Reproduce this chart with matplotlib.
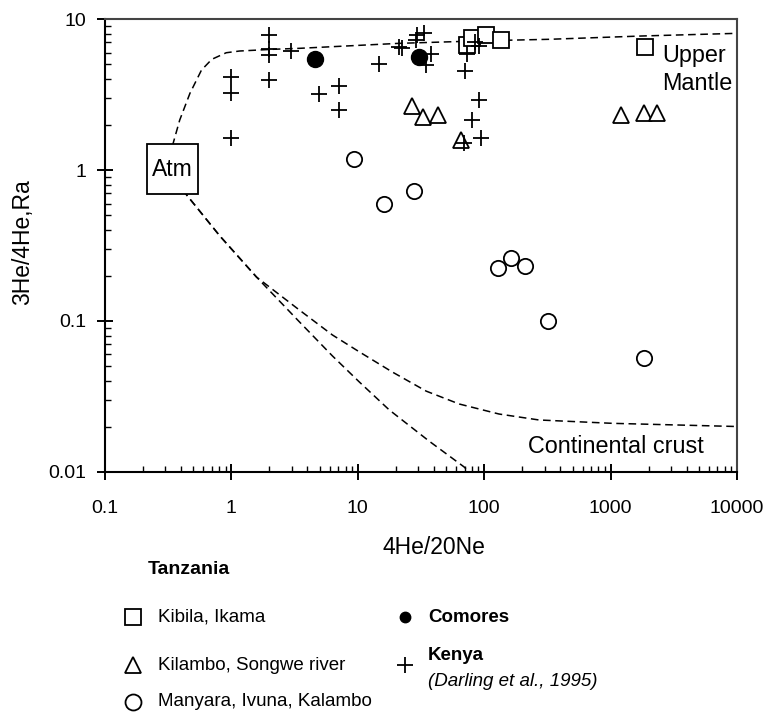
import matplotlib.pyplot as plt
from matplotlib.patches import Rectangle
from matplotlib.ticker import LogLocator, FuncFormatter, NullFormatter

plt.rcParams['font.family'] = ['Liberation Sans', 'DejaVu Sans']

# Tanzania springs
kibila_x = [73.6, 80.5, 103, 135, 1880]
kibila_y = [6.7, 7.45, 7.84, 7.3, 6.56]
kilambo_x = [27, 33, 43.5, 65, 1200, 1850, 2330]
kilambo_y = [2.65, 2.25, 2.32, 1.58, 2.32, 2.37, 2.40]
manyara_x = [9.4, 16.2, 28, 129, 164, 210, 320, 1850]
manyara_y = [1.18, 0.60, 0.73, 0.223, 0.26, 0.231, 0.10, 0.0566]

# Comores and Kenya (Darling et al., 1995)
comores_x = [4.6, 30.6]
comores_y = [5.4, 5.6]
kenya_x = [1.0, 1.0, 1.0, 2.0, 2.0, 2.0, 2.0, 2.97, 4.9, 7.06, 7.06, 14.8, 21.3, 22.3,
           29.5, 33.6, 29.0, 37.9, 34.6, 73.6, 71.0, 85.0, 91.0, 91.0, 80.5, 93.6, 69.4]
kenya_y = [4.15, 3.22, 1.62, 7.84, 6.3, 5.8, 3.95, 6.1, 3.17, 3.6, 2.5, 5.03, 6.56, 6.4,
           7.8, 8.1, 7.3, 5.9, 4.96, 5.9, 4.55, 7.0, 6.6, 2.9, 2.15, 1.62, 1.5]

# mixing curves from air (Atm)
mantle_x = [0.318, 0.346, 0.39, 0.47, 0.58, 0.70, 0.91, 1.16, 2.1, 3.5, 21, 100, 325, 1760, 10000]
mantle_y = [1.0, 1.5, 2.14, 3.22, 4.59, 5.41, 5.98, 6.14, 6.3, 6.4, 6.9, 7.18, 7.34, 7.72, 8.04]
crust_x = [0.318, 0.443, 0.81, 1.58, 3.46, 6.3, 10.3, 18.7, 34.8, 63.4, 131, 271, 1028, 10000]
crust_y = [1.0, 0.683, 0.366, 0.1955, 0.118, 0.0808, 0.0624, 0.046, 0.0343, 0.0282, 0.0242,
           0.0221, 0.021, 0.02]
steep_x = [0.318, 0.443, 0.81, 1.58, 3.46, 6.3, 10.3, 17.7, 36.7, 69.3, 76]
steep_y = [1.0, 0.683, 0.366, 0.1955, 0.0985, 0.0587, 0.0394, 0.0258, 0.016, 0.0108, 0.01]

fig = plt.figure(figsize=(7.69, 7.21), dpi=100)
ax = fig.add_axes([0.1365, 0.3454, 0.8219, 0.6282])

dash = (0, (5, 3))
for cx, cy in [(mantle_x, mantle_y), (crust_x, crust_y), (steep_x, steep_y)]:
    ax.plot(cx, cy, color='black', lw=1.1, linestyle=dash, zorder=2)

mk = dict(linestyle='none', color='black', mfc='white', mec='black', mew=1.3, ms=11, zorder=3)
ax.plot(kibila_x, kibila_y, marker='s', **mk)
ax.plot(kilambo_x, kilambo_y, marker='^', **mk)
ax.plot(manyara_x, manyara_y, marker='o', **mk)
ax.plot(kenya_x, kenya_y, marker='+', linestyle='none', color='black', mew=1.3, ms=11.5, zorder=3)
ax.plot(comores_x, comores_y, marker='o', linestyle='none', color='black', ms=11.5, zorder=4)

ax.set_xscale('log')
ax.set_yscale('log')
ax.set_xlim(0.1, 10000)
ax.set_ylim(0.01, 10)

fmt = FuncFormatter(lambda v, _: f'{v:g}')
for axis in (ax.xaxis, ax.yaxis):
    axis.set_major_formatter(fmt)
    axis.set_minor_locator(LogLocator(subs=range(2, 10)))
    axis.set_minor_formatter(NullFormatter())
ax.tick_params(which='major', direction='inout', length=11, width=1.4, labelsize=14)
ax.tick_params(axis='x', which='major', pad=15)
ax.tick_params(axis='y', which='major', pad=8)
ax.tick_params(which='minor', direction='in', length=4.5, width=1.0)

for side in ['left', 'bottom']:
    ax.spines[side].set_linewidth(1.5)
for side in ['top', 'right']:
    ax.spines[side].set_linewidth(1.5)
    ax.spines[side].set_color('#444444')

ax.set_xlabel('4He/20Ne', fontsize=16.5, va='top')
ax.xaxis.set_label_coords(0.5206, -0.1413)
ax.set_ylabel('3He/4He,Ra', fontsize=16.5, va='center')
ax.yaxis.set_label_coords(-0.1297, 0.508)

# Atm box
ax.add_patch(Rectangle((0.066, 0.613), 0.0816, 0.1104, transform=ax.transAxes,
                       fc='white', ec='black', lw=1.3, zorder=5))
ax.text(0.1068, 0.668, 'Atm', transform=ax.transAxes, fontsize=16.5, ha='center',
        va='center', zorder=6)
ax.text(0.881, 0.9205, 'Upper', transform=ax.transAxes, fontsize=16.8, ha='left', va='center')
ax.text(0.881, 0.8587, 'Mantle', transform=ax.transAxes, fontsize=16.8, ha='left', va='center')
ax.text(0.8085, 0.0558, 'Continental crust', transform=ax.transAxes, fontsize=16.8,
        ha='center', va='center')

# legend drawn below the plot in pixel coordinates
lax = fig.add_axes([0, 0, 1, 1])
lax.set_xlim(0, 769)
lax.set_ylim(721, 0)
lax.axis('off')
lax.patch.set_visible(False)

lax.text(148, 570, 'Tanzania', fontsize=14, fontweight='bold', va='center')
lk = dict(linestyle='none', mfc='white', mec='black', mew=1.3, ms=11.5)
lax.plot([132.7], [617], marker='s', **lk)
lax.plot([132.7], [665], marker='^', **lk)
lax.plot([132.7], [702], marker='o', **lk)
lax.text(158, 617, 'Kibila, Ikama', fontsize=13.5, va='center')
lax.text(158, 665, 'Kilambo, Songwe river', fontsize=13.5, va='center')
lax.text(158, 702, 'Manyara, Ivuna, Kalambo', fontsize=13.5, va='center')

lax.plot([405], [617], marker='o', linestyle='none', color='black', ms=7.5)
lax.plot([405], [665], marker='+', linestyle='none', color='black', mew=1.3, ms=12)
lax.text(428, 617, 'Comores', fontsize=13.5, fontweight='bold', va='center')
lax.text(428, 656, 'Kenya', fontsize=13.5, fontweight='bold', va='center')
lax.text(428, 681, '(Darling et al., 1995)', fontsize=13.5, style='italic', va='center')

fig.savefig('out.png', dpi=100)
